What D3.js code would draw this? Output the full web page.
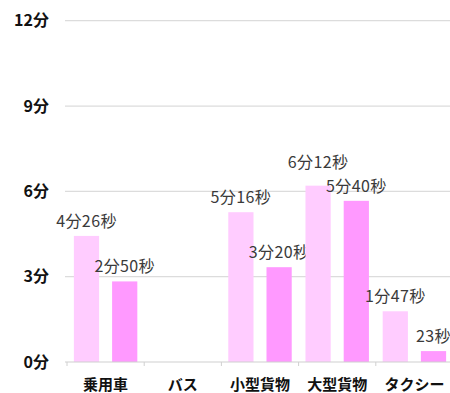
<!DOCTYPE html>
<html>
<head>
<meta charset="utf-8">
<script src="https://cdn.jsdelivr.net/npm/d3@7"></script>
<style>
  html, body { margin: 0; padding: 0; background: #fff; }
  svg { display: block; }
</style>
</head>
<body>
<svg id="chart" width="450" height="393"></svg>
<script>
// Categories and two series of durations (minutes, seconds)
const categories = ["乗用車", "バス", "小型貨物", "大型貨物", "タクシー"];
const seriesKeys = ["a", "b"];
const seriesA = [[4, 26], null, [5, 16], [6, 12], [1, 47]];
const seriesB = [[2, 50], null, [3, 20], [5, 40], [0, 23]];
const yTicks = [0, 3, 6, 9, 12];
const yTickLabels = ["0分", "3分", "6分", "9分", "12分"];
const colors = { a: "#ffccff", b: "#ff99ff" };

const toMin = v => v[0] + v[1] / 60;
const fmt = v => (v[0] > 0 ? v[0] + "分" : "") + v[1] + "秒";

const svg = d3.select("#chart");
const font = "'Noto Sans CJK JP', 'Noto Sans', sans-serif";

const y = d3.scaleLinear().domain([0, 12]).range([362, 20.7]);
const x0 = d3.scaleBand().domain(categories).range([67, 453]);
const x1 = d3.scaleBand().domain(seriesKeys).range([0, x0.bandwidth()])
  .paddingInner(0.34).paddingOuter(0.18);

// Horizontal gridlines
svg.append("g").selectAll("line")
  .data(yTicks.filter(t => t > 0))
  .join("line")
  .attr("x1", 65).attr("x2", 450)
  .attr("y1", d => y(d)).attr("y2", d => y(d))
  .attr("stroke", "#dcdcdc").attr("stroke-width", 1.2);

// Y tick labels
svg.append("g").selectAll("text")
  .data(yTicks)
  .join("text")
  .attr("x", 49).attr("y", d => y(d))
  .attr("dy", "0.36em")
  .attr("text-anchor", "end")
  .attr("font-family", font).attr("font-weight", "bold")
  .attr("font-size", 16).attr("fill", "#111")
  .text((d, i) => yTickLabels[i]);

// Bars
const rows = categories.map((c, i) => ({
  cat: c,
  vals: [{ key: "a", v: seriesA[i] }, { key: "b", v: seriesB[i] }].filter(d => d.v)
}));

const groups = svg.append("g").selectAll("g")
  .data(rows).join("g")
  .attr("transform", d => `translate(${x0(d.cat)},0)`);

groups.selectAll("rect")
  .data(d => d.vals).join("rect")
  .attr("x", d => x1(d.key))
  .attr("width", x1.bandwidth())
  .attr("y", d => y(toMin(d.v)))
  .attr("height", d => y(0) - y(toMin(d.v)))
  .attr("fill", d => colors[d.key]);

// Value labels (the tallest one lifted to clear its neighbour)
groups.selectAll("text")
  .data(d => d.vals.map(v => ({ ...v, cat: d.cat }))).join("text")
  .attr("x", d => x1(d.key) + x1.bandwidth() / 2)
  .attr("y", d => y(toMin(d.v)) - (d.cat === "大型貨物" && d.key === "a" ? 18 : 9))
  .attr("text-anchor", "middle")
  .attr("font-family", font).attr("font-size", 16)
  .attr("letter-spacing", 0.4)
  .attr("fill", "#3a3a3a")
  .text(d => fmt(d.v));

// X axis baseline and tick marks
svg.append("line")
  .attr("x1", 65).attr("x2", 450)
  .attr("y1", y(0)).attr("y2", y(0))
  .attr("stroke", "#d0d0d0").attr("stroke-width", 1.2);

svg.append("g").selectAll("line")
  .data(categories)
  .join("line")
  .attr("x1", d => x0(d)).attr("x2", d => x0(d))
  .attr("y1", y(0)).attr("y2", y(0) + 4)
  .attr("stroke", "#d0d0d0");

// Category labels
svg.append("g").selectAll("text")
  .data(categories)
  .join("text")
  .attr("x", d => x0(d) + x0.bandwidth() / 2)
  .attr("y", 390)
  .attr("text-anchor", "middle")
  .attr("font-family", font).attr("font-weight", "bold")
  .attr("font-size", 15).attr("fill", "#111")
  .text(d => d);
</script>
</body>
</html>
